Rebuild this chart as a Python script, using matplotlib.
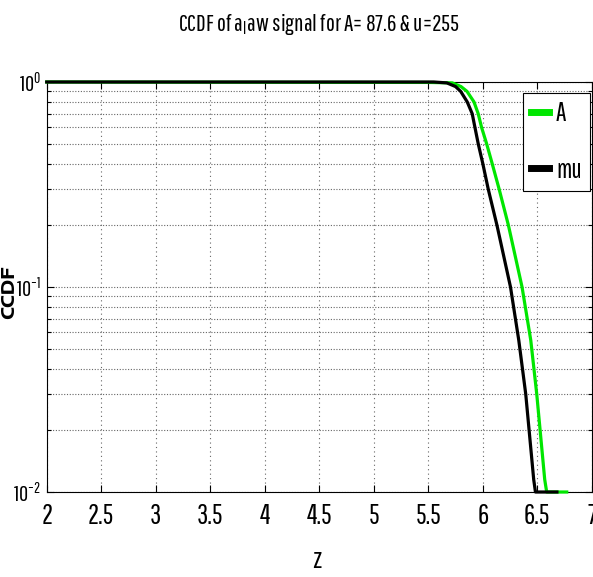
import numpy as np
import matplotlib
matplotlib.use("Agg")
from matplotlib import pyplot as plt
from matplotlib import font_manager
from matplotlib.ticker import LogLocator, NullFormatter

# CCDF of the companded signal, A-law (A=87.6) and mu-law (mu=255)
z_alaw = [2.0, 5.5, 5.72, 5.80, 5.855, 5.919, 5.958, 5.989, 6.035, 6.086,
          6.15, 6.235, 6.36, 6.44, 6.495, 6.568, 6.586, 6.77]
ccdf_alaw = [1.0, 0.995, 0.99, 0.95, 0.9, 0.8, 0.7, 0.6, 0.5, 0.4,
             0.3, 0.2, 0.1, 0.055, 0.03, 0.0115, 0.01, 0.01]

z_mulaw = [2.0, 5.55, 5.67, 5.75, 5.797, 5.857, 5.903, 5.928, 5.958, 6.0,
           6.05, 6.13, 6.254, 6.33, 6.394, 6.467, 6.483, 6.68]
ccdf_mulaw = [1.0, 1.0, 0.99, 0.95, 0.9, 0.8, 0.7, 0.6, 0.5, 0.4,
              0.3, 0.2, 0.1, 0.055, 0.03, 0.0115, 0.01, 0.01]

series_names = ['A', 'mu']
series_colors = ['#00e600', 'black']
xticks = [2, 2.5, 3, 3.5, 4, 4.5, 5, 5.5, 6, 6.5, 7]

# narrow face for ticks/title, wide bold face for the rotated y label
installed = {f.name for f in font_manager.fontManager.ttflist}
narrow = next(n for n in ['Pathway Gothic One', 'League Gothic', 'Antonio',
                          'Sofia Sans Extra Condensed', 'Fira Sans Extra Condensed',
                          'DejaVu Sans'] if n in installed)
wide = next(n for n in ['Encode Sans Expanded', 'Encode Sans Semi Expanded',
                        'DejaVu Sans'] if n in installed)

plt.rcParams['font.family'] = [narrow, 'DejaVu Sans']
plt.rcParams['mathtext.fontset'] = 'custom'
plt.rcParams['mathtext.rm'] = narrow
plt.rcParams['mathtext.it'] = narrow
plt.rcParams['mathtext.bf'] = narrow

fig = plt.figure(figsize=(5.93, 5.77), dpi=100)
ax = fig.add_axes([0.0788, 0.1473, 0.9192, 0.7106])

grid_kw = dict(color='#666666', linewidth=0.8)
ax.grid(True, which='major', axis='x', linestyle=(0, (1, 3)), **grid_kw)
ax.grid(True, which='both', axis='y', linestyle=(0, (1, 1.5)), **grid_kw)

ax.semilogy(z_alaw, ccdf_alaw, color=series_colors[0], linewidth=2.3,
            label=series_names[0], clip_on=False, zorder=3)
ax.semilogy(z_mulaw, ccdf_mulaw, color=series_colors[1], linewidth=2.3,
            label=series_names[1], clip_on=False, zorder=4)

ax.set_xlim(2, 7)
ax.set_ylim(1e-2, 1e0)
ax.set_xticks(xticks)
ax.set_xticklabels([f'{t:g}' for t in xticks])
ax.yaxis.set_major_locator(LogLocator(base=10))
ax.yaxis.set_minor_locator(LogLocator(base=10, subs=np.arange(2, 10)))
ax.yaxis.set_minor_formatter(NullFormatter())

ax.tick_params(which='both', direction='in', top=True, right=True, width=0.8)
ax.tick_params(axis='x', which='major', length=5, pad=8, labelsize=20)
ax.tick_params(axis='y', which='major', length=5, pad=4, labelsize=16)
ax.tick_params(axis='y', which='minor', length=3)
for s in ax.spines.values():
    s.set_linewidth(0.8)

ax.set_title('CCDF of a$_{\\mathrm{l}}$aw signal for A= 87.6 & u=255',
             fontsize=17, pad=37)
ax.set_xlabel('z', fontsize=21)
ax.xaxis.set_label_coords(0.495, -0.135)
ax.set_ylabel('CCDF', fontsize=13, fontweight='bold', family=[wide, 'DejaVu Sans'])
ax.yaxis.label.set_va('center')
ax.yaxis.set_label_coords(-0.069, 0.488)

leg = ax.legend(loc='upper right', bbox_to_anchor=(0.996, 0.973), borderaxespad=0,
                fontsize=19, handlelength=0.7, handletextpad=0.25, borderpad=0.3,
                labelspacing=1.2, fancybox=False, framealpha=1, edgecolor='black')
leg.get_frame().set_linewidth(0.8)
for line in leg.get_lines():
    line.set_linewidth(5)

fig.savefig('out.png', dpi=100)
plt.close(fig)
